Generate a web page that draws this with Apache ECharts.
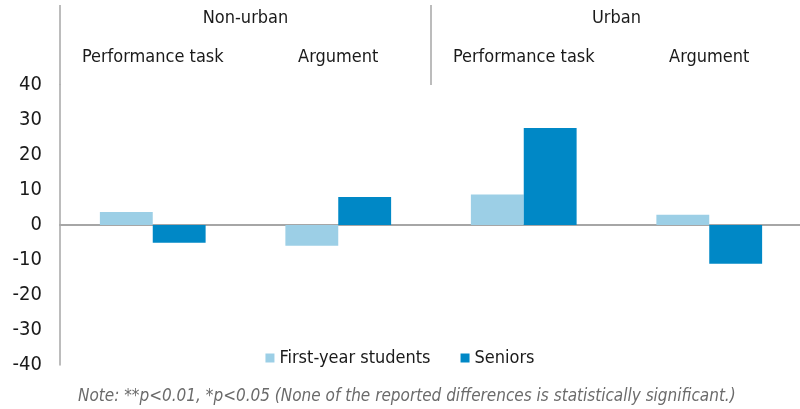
<!DOCTYPE html>
<html>
<head>
<meta charset="utf-8">
<script src="https://cdn.jsdelivr.net/npm/echarts@6/dist/echarts.min.js"></script>
<style>
  html, body { margin: 0; padding: 0; background: #fff; }
  #chart { width: 800px; height: 409px; }
</style>
</head>
<body>
<div id="chart"></div>
<script>
var categories = ["Performance task", "Argument", "Performance task", "Argument"];
var groups = ["Non-urban", "Urban"];
var firstYear = [3.7, -5.9, 8.7, 2.9];
var seniors = [-5.1, 8.0, 27.7, -11.1];
var yTicks = { min: -40, max: 40, interval: 10 };
var note = "Note: **p<0.01, *p<0.05 (None of the reported differences is statistically significant.)";

var font = "'DejaVu Sans Condensed', 'Liberation Sans Narrow', sans-serif";
var gray = "#a6a6a6";

var chart = echarts.init(document.getElementById("chart"));
chart.setOption({
  animation: false,
  textStyle: { fontFamily: font },
  title: {
    text: note,
    left: 73,
    top: 383,
    textStyle: { fontSize: 17, fontStyle: "italic", fontWeight: "normal", color: "#6b6b6b", fontFamily: font }
  },
  legend: {
    data: ["First-year students", "Seniors"],
    left: "center",
    top: 344,
    icon: "rect",
    itemWidth: 9,
    itemHeight: 9,
    itemGap: 30,
    itemStyle: { borderWidth: 0 },
    textStyle: { fontSize: 18, color: "#1a1a1a", fontFamily: font }
  },
  grid: { left: 60, right: -2, top: 85, bottom: 44, outerBoundsMode: "none" },
  xAxis: [
    {
      type: "category",
      data: categories,
      axisLine: { onZero: true, lineStyle: { color: gray, width: 2 } },
      axisTick: { show: false },
      axisLabel: { show: false }
    },
    {
      type: "category",
      data: categories,
      position: "top",
      axisLine: { show: false },
      axisTick: { show: false },
      axisLabel: { interval: 0, margin: 19, fontSize: 18, color: "#1a1a1a", fontFamily: font }
    },
    {
      type: "category",
      data: groups,
      position: "top",
      axisLine: { show: false },
      axisTick: { show: true, length: 80, lineStyle: { color: gray, width: 1.5 } },
      axisLabel: { interval: 0, margin: 58, fontSize: 18, color: "#1a1a1a", fontFamily: font }
    }
  ],
  yAxis: {
    type: "value",
    min: yTicks.min,
    max: yTicks.max,
    interval: yTicks.interval,
    axisLine: { show: true, lineStyle: { color: gray, width: 1.5 } },
    axisTick: { show: false },
    splitLine: { show: false },
    axisLabel: { margin: 18, fontSize: 20, color: "#1a1a1a", fontFamily: font }
  },
  series: [
    {
      name: "First-year students",
      type: "bar",
      data: firstYear,
      barGap: "0%",
      barCategoryGap: "43%",
      itemStyle: { color: "#9ccfe6" }
    },
    {
      name: "Seniors",
      type: "bar",
      data: seniors,
      itemStyle: { color: "#0088c6" }
    }
  ]
});
</script>
</body>
</html>
